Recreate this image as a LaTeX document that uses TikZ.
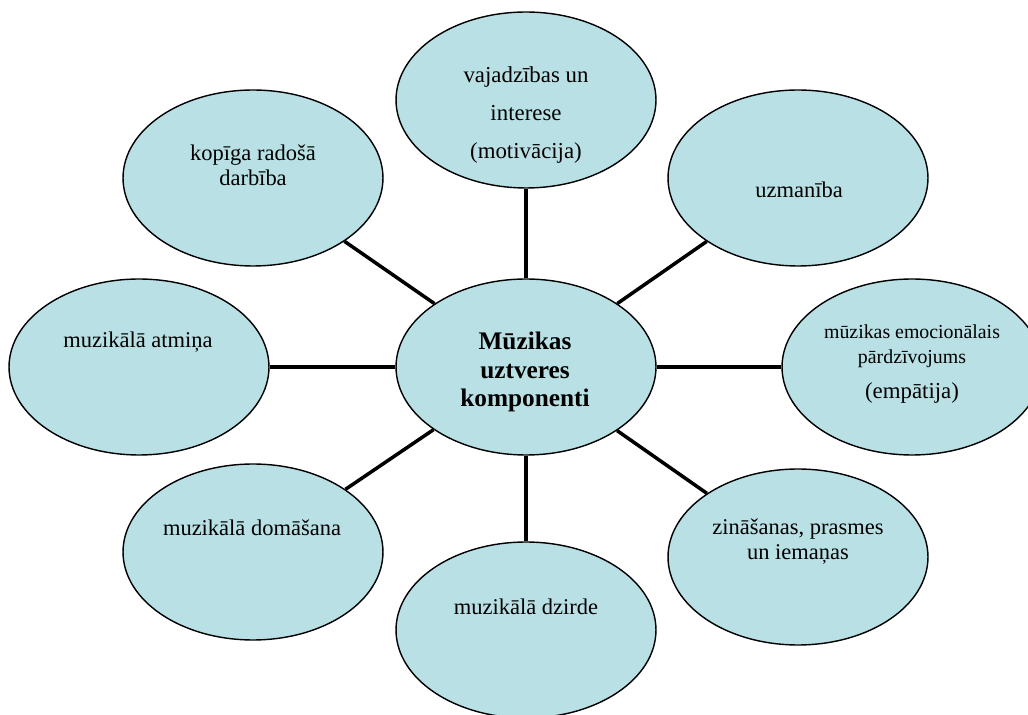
\documentclass[tikz,border=0pt]{standalone}
\usepackage{fontspec}
\setmainfont{Liberation Serif}
\usepackage{xcolor}
\usetikzlibrary{shapes.geometric}
\definecolor{compfill}{RGB}{185,224,228}

\begin{document}
\begin{tikzpicture}[x=0.02cm, y=-0.02cm,
  comp/.style={ellipse, draw, line width=0.8pt, fill=compfill,
    minimum width=5.2cm, minimum height=3.52cm, inner sep=0pt},
  txt/.style={align=center, inner sep=0pt, font=\fontsize{12.8}{14.2}\selectfont},
  link/.style={line width=2pt}]
  \useasboundingbox (0,0) rectangle (1028,715);
  % ellipses
  \node[comp] (centre) at (526,367) {};
  \node[comp] (vajad)  at (526,100) {};
  \node[comp] (uzman)  at (798,178) {};
  \node[comp] (empat)  at (912,367) {};
  \node[comp] (zinas)  at (798,557) {};
  \node[comp] (dzirde) at (526,630) {};
  \node[comp] (domas)  at (253,552) {};
  \node[comp] (atmina) at (139,367) {};
  \node[comp] (kopiga) at (253,178) {};
  % connectors
  \foreach \n in {vajad,uzman,empat,zinas,dzirde,domas,atmina,kopiga}
    \draw[link] (centre) -- (\n);
  % texts
  \node[txt, font=\bfseries\fontsize{14.4}{16.2}\selectfont] (centre-t) at (525,372)
    {Mūzikas\\uztveres\\komponenti};
  \node[txt, font=\fontsize{13}{21.6}\selectfont] (vajad-t) at (526,115)
    {vajadzības un\\interese\\(motivācija)};
  \node[txt] (uzman-t) at (799,190) {uzmanība};
  \node[txt, font=\fontsize{11.3}{14.2}\selectfont] (empat-t) at (912,364)
    {mūzikas emocionālais\\pārdzīvojums\\[6pt]{\fontsize{13}{14}\selectfont(empātija)}};
  \node[txt] (zinas-t) at (798,542) {zināšanas, prasmes\\un iemaņas};
  \node[txt] (dzirde-t) at (526,607) {muzikālā dzirde};
  \node[txt] (domas-t) at (252,528) {muzikālā domāšana};
  \node[txt] (atmina-t) at (138,342) {muzikālā atmiņa};
  \node[txt] (kopiga-t) at (253,165) {kopīga radošā\\darbība};
\end{tikzpicture}
\end{document}
